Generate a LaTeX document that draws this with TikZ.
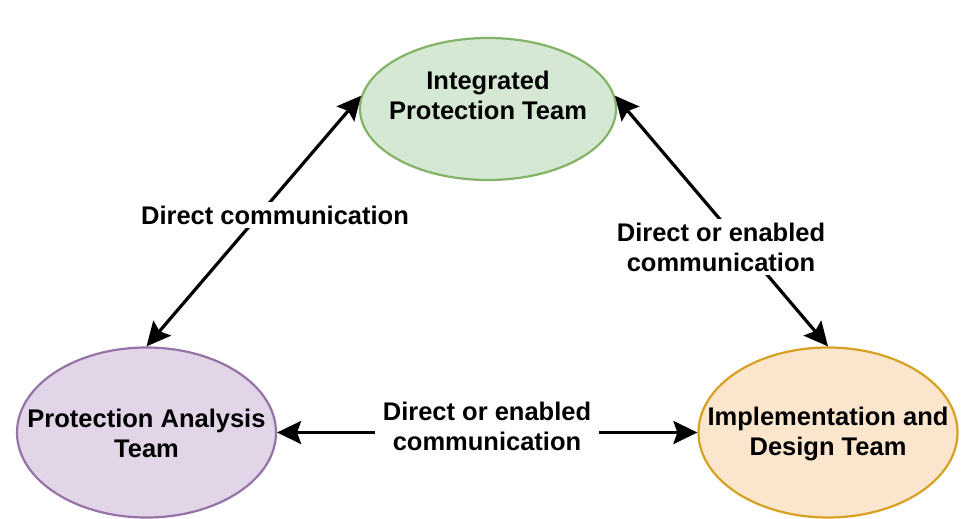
\documentclass[tikz,border=0pt]{standalone}
\usepackage{fontspec}
\setmainfont{Liberation Sans}
\usetikzlibrary{shapes.geometric,arrows.meta}
\definecolor{gfill}{HTML}{D5E8D4}
\definecolor{gdraw}{HTML}{82B366}
\definecolor{pfill}{HTML}{E1D5E7}
\definecolor{pdraw}{HTML}{9673A6}
\definecolor{ofill}{HTML}{FBE5CD}
\definecolor{odraw}{HTML}{D6A020}
\tikzset{
  teamtext/.style={font=\fontsize{25.5}{30}\selectfont\bfseries, align=center, text=black},
  team/.style={ellipse, line width=2.2pt, inner sep=0pt},
  tip/.style={Stealth[length=24pt,width=23pt,inset=4pt]},
  link/.style={line width=3.2pt, {Stealth[length=24pt,width=23pt,inset=4pt]}-{Stealth[length=24pt,width=23pt,inset=4pt]}},
  linklabel/.style={teamtext, fill=white, inner sep=4pt}
}
\begin{document}
\begin{tikzpicture}[x=1pt,y=-1pt]
\useasboundingbox (0,0) rectangle (961,519);
\node[team, fill=gfill, draw=gdraw, minimum width=256pt, minimum height=142pt,
  label={[teamtext, yshift=14pt]center:{Integrated\\Protection Team}}] (ipt) at (488,109) {};
\node[team, fill=pfill, draw=pdraw, minimum width=259pt, minimum height=170pt,
  label={[teamtext, yshift=-1pt]center:{Protection Analysis\\Team}}] (pat) at (146.5,432.5) {};
\node[team, fill=ofill, draw=odraw, minimum width=259pt, minimum height=170pt,
  label={[teamtext, yshift=-1pt]center:{Implementation and\\Design Team}}] (idt) at (828,432.5) {};

\draw[link] (pat.north) -- (ipt.174);
\draw[link] (ipt.6) -- (idt.north);
\draw[link] (pat.east) -- (idt.west);

\node[linklabel] (l1) at (275,215) {Direct communication};
\node[linklabel] (l2) at (721,247) {Direct or enabled\\communication};
\node[linklabel, inner xsep=8pt] (l3) at (487,426) {Direct or enabled\\communication};
\end{tikzpicture}
\end{document}
